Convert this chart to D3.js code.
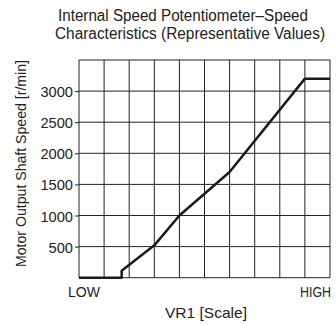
<!DOCTYPE html>
<html>
<head>
<meta charset="utf-8">
<script src="https://cdn.jsdelivr.net/npm/d3@7/dist/d3.min.js"></script>
<style>
  html, body { margin: 0; padding: 0; background: #fff; }
  text { font-family: "Liberation Sans", Arial, sans-serif; fill: #222; }
</style>
</head>
<body>
<svg id="chart" width="336" height="325"></svg>
<script>
// Potentiometer scale position (0 = LOW, 10 = HIGH) and motor output speed
const scalePos = [0, 1.7, 1.7, 3, 4, 6, 9, 10];
const speed    = [0, 0, 110, 520, 1000, 1700, 3200, 3200];
const yTicks   = [500, 1000, 1500, 2000, 2500, 3000];
const xGrid    = [0, 1, 2, 3, 4, 5, 6, 7, 8, 9, 10];
const yGrid    = [0, 500, 1000, 1500, 2000, 2500, 3000, 3500];
const titleLines = ["Internal Speed Potentiometer\u2013Speed", "Characteristics (Representative Values)"];

const svg = d3.select("#chart");
const plotL = 79, plotR = 330, plotT = 60, plotB = 277.7;

const x = d3.scaleLinear().domain([0, 10]).range([plotL, plotR]);
const y = d3.scaleLinear().domain([0, 3500]).range([plotB, plotT]);

// condensed-looking text: fit a label to a set width
function fit(sel, w) {
  return sel.attr("textLength", w).attr("lengthAdjust", "spacingAndGlyphs");
}

// grid
svg.append("g").selectAll("line").data(xGrid).join("line")
  .attr("x1", d => x(d)).attr("x2", d => x(d))
  .attr("y1", plotT).attr("y2", plotB)
  .attr("stroke", "#222").attr("stroke-width", 1);
svg.append("g").selectAll("line").data(yGrid).join("line")
  .attr("x1", plotL).attr("x2", plotR)
  .attr("y1", d => y(d)).attr("y2", d => y(d))
  .attr("stroke", "#222").attr("stroke-width", 1);

// left axis with outward ticks
const yAxis = d3.axisLeft(y).tickValues(yTicks).tickSize(4).tickPadding(2).tickFormat(d3.format("d"));
const ga = svg.append("g").attr("transform", `translate(${plotL},0)`).call(yAxis);
ga.select(".domain").remove();
ga.selectAll(".tick line").attr("stroke", "#222");
ga.selectAll(".tick text")
  .attr("fill", "#222").attr("dy", "0.37em")
  .style("font-size", "15px")
  .style("font-family", '"Liberation Sans", Arial, sans-serif')
  .each(function(d) { d3.select(this).attr("textLength", String(d).length * 8.15).attr("lengthAdjust", "spacingAndGlyphs"); });

// curve
const line = d3.line().x((d, i) => x(scalePos[i])).y(d => y(d));
svg.append("path").datum(speed)
  .attr("d", line)
  .attr("fill", "none").attr("stroke", "#1a1a1a").attr("stroke-width", 2.5)
  .attr("stroke-linejoin", "round");

// axis end labels and x title
fit(svg.append("text").attr("x", 68).attr("y", 297).style("font-size", "15px").text("LOW"), 32);
fit(svg.append("text").attr("x", 300).attr("y", 297).style("font-size", "15px").text("HIGH"), 31);
fit(svg.append("text").attr("x", 165).attr("y", 318).style("font-size", "15px").text("VR1 [Scale]"), 82);

// y title
fit(svg.append("text")
  .attr("transform", `translate(25.5,163.5) rotate(-90)`)
  .attr("text-anchor", "middle").style("font-size", "15px")
  .text("Motor Output Shaft Speed [r/min]"), 207);

// title
const titleX = [58, 55], titleW = [250, 270];
svg.append("g").selectAll("text").data(titleLines).join("text")
  .attr("x", (d, i) => titleX[i]).attr("y", (d, i) => 21 + i * 18.4)
  .style("font-size", "16px")
  .attr("textLength", (d, i) => titleW[i]).attr("lengthAdjust", "spacingAndGlyphs")
  .text(d => d);
</script>
</body>
</html>
